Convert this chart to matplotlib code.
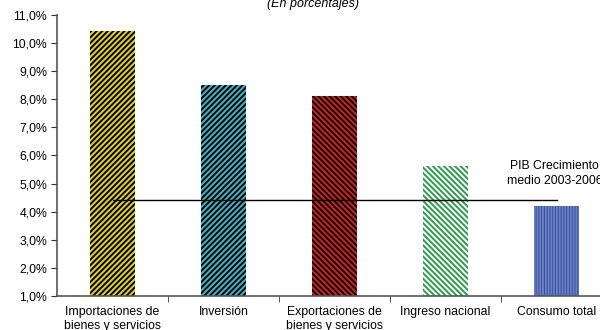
import matplotlib.pyplot as plt
from matplotlib.ticker import FuncFormatter

plt.rcParams['font.family'] = ['Liberation Sans', 'DejaVu Sans']
plt.rcParams['hatch.linewidth'] = 1.4

categorias = ['Importaciones de\nbienes y servicios', 'Inversión',
              'Exportaciones de\nbienes y servicios', 'Ingreso nacional',
              'Consumo total']
crecimiento = [10.43, 8.5, 8.12, 5.64, 4.2]
pib_medio = 4.4

colores = ['#e2d41e', '#3fb6c8', '#d42222', 'white', '#34489a']
rayas = ['#000000', '#000000', '#000000', '#2e9a4e', '#6a7fc4']
tramas = ['//////', '//////', '\\\\\\\\\\\\', '\\\\\\\\\\\\', '||||||']

fig = plt.figure(figsize=(6, 3.3), dpi=100)
ax = fig.add_axes([0.095, 0.103, 0.925, 0.852])

for i, v in enumerate(crecimiento):
    ax.bar(i, v - 1, bottom=1, width=0.41, color=colores[i],
           edgecolor=rayas[i], linewidth=0, hatch=tramas[i])

ax.plot([0, len(categorias) - 1], [pib_medio, pib_medio], color='black', lw=1.0)
ax.text(3.985, 5.36, 'PIB Crecimiento\nmedio 2003-2006', ha='center', va='center',
        fontsize=8.8, linespacing=1.35)

ax.set_xlim(-0.5, 4.5)
ax.set_ylim(1, 11)
ax.set_yticks(range(1, 12))
ax.yaxis.set_major_formatter(FuncFormatter(lambda y, p: f'{y:.1f}%'.replace('.', ',')))
ax.set_xticks(range(len(categorias)))
ax.set_xticklabels(categorias, fontsize=8.8, linespacing=1.2)
ax.set_xticks([0.5, 1.5, 2.5, 3.5], minor=True)
ax.tick_params(axis='x', which='major', length=0, pad=7)
ax.tick_params(axis='x', which='minor', length=4, direction='out', color='#333333')
ax.tick_params(axis='y', labelsize=8.8, length=4, direction='out', color='#333333', pad=3)

for s in ['top', 'right']:
    ax.spines[s].set_visible(False)
for s in ['left', 'bottom']:
    ax.spines[s].set_color('#555555')
    ax.spines[s].set_linewidth(1.2)

fig.text(313 / 600, 1 - 4 / 330, '(En porcentajes)', ha='center', va='center',
         style='italic', fontsize=9)

fig.savefig('out.png', dpi=100)
